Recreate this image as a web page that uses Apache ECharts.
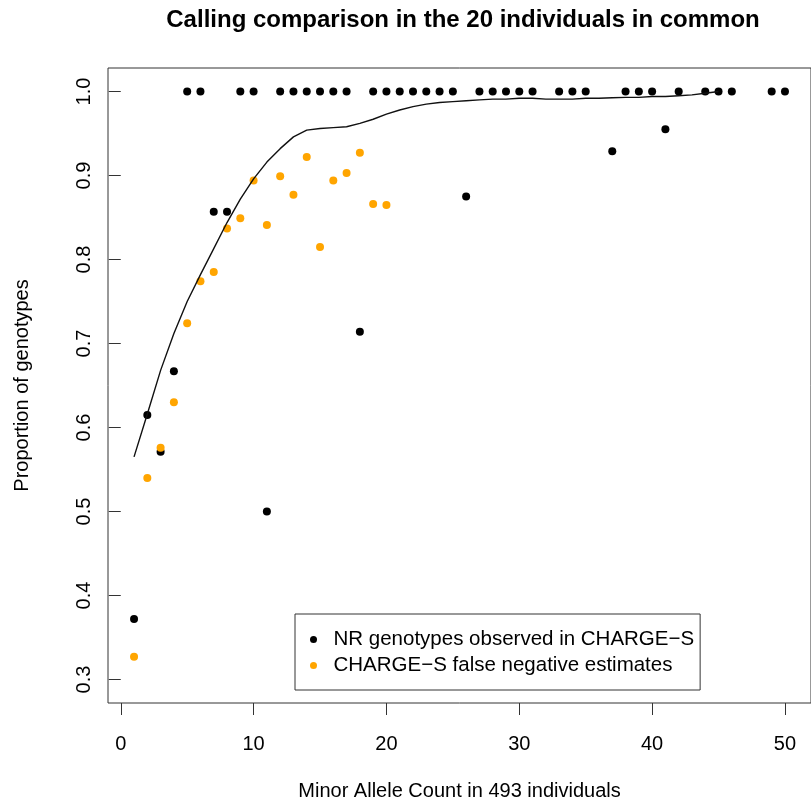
<!DOCTYPE html>
<html><head><meta charset="utf-8">
<script src="https://cdn.jsdelivr.net/npm/echarts@6/dist/echarts.min.js"></script>
<style>html,body{margin:0;padding:0;background:#fff}#c{width:811px;height:806px}</style>
</head><body><div id="c"></div>
<script>
const titleText = 'Calling comparison in the 20 individuals in common';
const xName = 'Minor Allele Count in 493 individuals';
const yName = 'Proportion of genotypes';
const xTicks = [0, 10, 20, 30, 40, 50];
const yTicks = [0.3, 0.4, 0.5, 0.6, 0.7, 0.8, 0.9, 1.0];
const nrName = 'NR genotypes observed in CHARGE\u2212S';
const fnName = 'CHARGE\u2212S false negative estimates';
const nrX = [1,2,3,4,5,6,7,8,9,10,11,12,13,14,15,16,17,18,19,20,21,22,23,24,25,26,27,28,29,30,31,33,34,35,37,38,39,40,41,42,44,45,46,49,50];
const nrY = [0.372,0.615,0.571,0.667,1,1,0.857,0.857,1,1,0.5,1,1,1,1,1,1,0.714,1,1,1,1,1,1,1,0.875,1,1,1,1,1,1,1,1,0.929,1,1,1,0.955,1,1,1,1,1,1];
const fnX = [1,2,3,4,5,6,7,8,9,10,11,12,13,14,15,16,17,18,19,20];
const fnY = [0.327,0.540,0.576,0.630,0.724,0.774,0.785,0.837,0.849,0.894,0.841,0.899,0.877,0.922,0.815,0.894,0.903,0.927,0.866,0.865];
const fitX = [1,2,3,4,5,6,7,8,9,10,11,12,13,14,15,16,17,18,19,20,21,22,23,24,25,26,27,28,29,30,31,32,33,34,35,36,37,38,39,40,41,42,43,44,45];
const fitY = [0.565,0.616,0.668,0.712,0.750,0.782,0.813,0.844,0.872,0.896,0.916,0.932,0.946,0.954,0.956,0.957,0.958,0.962,0.967,0.973,0.978,0.982,0.985,0.987,0.988,0.989,0.990,0.991,0.991,0.992,0.992,0.991,0.991,0.991,0.992,0.992,0.9925,0.993,0.993,0.994,0.994,0.995,0.996,0.998,1.000];

const zip = (a, b) => a.map((v, i) => [v, b[i]]);
const FONT = 'Liberation Sans, Arial, Helvetica, sans-serif';
const chart = echarts.init(document.getElementById('c'), null, {renderer: 'canvas'});
chart.setOption({
  backgroundColor: '#fff',
  animation: false,
  title: {
    text: titleText,
    left: 463, top: 8, textAlign: 'center', padding: 0,
    textStyle: {fontFamily: FONT, fontSize: 24, fontWeight: 'bold', color: '#000'}
  },
  legend: {
    orient: 'vertical',
    left: 295, top: 614,
    padding: [15, 6, 14, 15],
    itemGap: 5,
    itemWidth: 30, itemHeight: 7,
    borderColor: '#333', borderWidth: 1, borderRadius: 0,
    icon: 'circle',
    itemStyle: {opacity: 1},
    textStyle: {fontFamily: FONT, fontSize: 20.5, color: '#000', padding: [0,0,0,0]},
    data: [nrName, fnName]
  },
  grid: {
    left: 108, top: 68, width: 711, height: 638,
    show: true, borderColor: '#333', borderWidth: 1, backgroundColor: 'transparent',
    containLabel: false
  },
  xAxis: {
    type: 'value', min: -0.96, max: 51.96,
    name: xName, nameLocation: 'middle', nameGap: 78,
    nameTextStyle: {fontFamily: FONT, fontSize: 20, color: '#000'},
    axisLine: {show: false},
    axisTick: {show: true, customValues: xTicks, length: 12, lineStyle: {color: '#333', width: 1}},
    axisLabel: {customValues: xTicks, margin: 31, fontFamily: FONT, fontSize: 20, color: '#000'},
    splitLine: {show: false}
  },
  yAxis: {
    type: 'value', min: 0.272, max: 1.028,
    name: yName, nameLocation: 'middle', nameGap: 76,
    nameTextStyle: {fontFamily: FONT, fontSize: 20, color: '#000'},
    axisLine: {show: false},
    axisTick: {show: true, customValues: yTicks, length: 12, lineStyle: {color: '#333', width: 1}},
    axisLabel: {customValues: yTicks, rotate: 90, margin: 14, fontFamily: FONT, fontSize: 20, color: '#000',
      formatter: v => v.toFixed(1)},
    splitLine: {show: false}
  },
  series: [
    {name: nrName, type: 'scatter', data: zip(nrX, nrY), symbol: 'circle', symbolSize: 8,
     itemStyle: {color: '#000', opacity: 1}, z: 2},
    {name: fnName, type: 'scatter', data: zip(fnX, fnY), symbol: 'circle', symbolSize: 8,
     itemStyle: {color: '#FFA500', opacity: 1}, z: 3},
    {name: 'fit', type: 'line', data: zip(fitX, fitY), showSymbol: false, symbol: 'none',
     lineStyle: {color: '#111', width: 1.4}, z: 4, silent: true}
  ]
});
</script></body></html>
